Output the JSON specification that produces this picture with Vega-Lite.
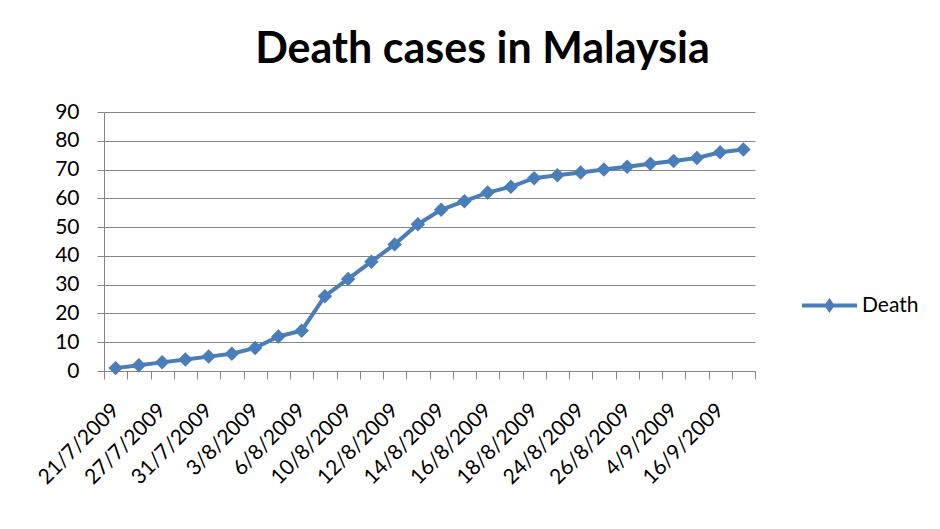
{
  "$schema": "https://vega.github.io/schema/vega-lite/v6.json",
  "autosize": "none",
  "width": 651,
  "height": 259,
  "padding": {"left": 104, "top": 112, "right": 185, "bottom": 158},
  "background": "white",
  "title": {
    "text": "Death cases in Malaysia",
    "font": "Lato",
    "fontSize": 43,
    "fontWeight": "bold",
    "color": "#000000",
    "anchor": "middle",
    "frame": "group",
    "baseline": "alphabetic",
    "dx": 53,
    "offset": -5
  },
  "data": {
    "values": [
      {"date": "21/7/2009", "series": "Death", "deaths": 1},
      {"date": "25/7/2009", "series": "Death", "deaths": 2},
      {"date": "27/7/2009", "series": "Death", "deaths": 3},
      {"date": "29/7/2009", "series": "Death", "deaths": 4},
      {"date": "31/7/2009", "series": "Death", "deaths": 5},
      {"date": "1/8/2009", "series": "Death", "deaths": 6},
      {"date": "3/8/2009", "series": "Death", "deaths": 8},
      {"date": "4/8/2009", "series": "Death", "deaths": 12},
      {"date": "6/8/2009", "series": "Death", "deaths": 14},
      {"date": "8/8/2009", "series": "Death", "deaths": 26},
      {"date": "10/8/2009", "series": "Death", "deaths": 32},
      {"date": "11/8/2009", "series": "Death", "deaths": 38},
      {"date": "12/8/2009", "series": "Death", "deaths": 44},
      {"date": "13/8/2009", "series": "Death", "deaths": 51},
      {"date": "14/8/2009", "series": "Death", "deaths": 56},
      {"date": "15/8/2009", "series": "Death", "deaths": 59},
      {"date": "16/8/2009", "series": "Death", "deaths": 62},
      {"date": "17/8/2009", "series": "Death", "deaths": 64},
      {"date": "18/8/2009", "series": "Death", "deaths": 67},
      {"date": "21/8/2009", "series": "Death", "deaths": 68},
      {"date": "24/8/2009", "series": "Death", "deaths": 69},
      {"date": "25/8/2009", "series": "Death", "deaths": 70},
      {"date": "26/8/2009", "series": "Death", "deaths": 71},
      {"date": "30/8/2009", "series": "Death", "deaths": 72},
      {"date": "4/9/2009", "series": "Death", "deaths": 73},
      {"date": "10/9/2009", "series": "Death", "deaths": 74},
      {"date": "16/9/2009", "series": "Death", "deaths": 76},
      {"date": "20/9/2009", "series": "Death", "deaths": 77}
    ]
  },
  "encoding": {
    "x": {
      "field": "date",
      "type": "ordinal",
      "sort": null,
      "scale": {"type": "band", "paddingInner": 0, "paddingOuter": 0},
      "axis": {
        "title": null,
        "labelAngle": -45,
        "labelAlign": "right",
        "labelBaseline": "middle",
        "labelFont": "Lato",
        "labelFontSize": 21,
        "labelColor": "#000000",
        "labelPadding": 28,
        "labelOverlap": false,
        "labelExpr": "indexof(['21/7/2009','27/7/2009','31/7/2009','3/8/2009','6/8/2009','10/8/2009','12/8/2009','14/8/2009','16/8/2009','18/8/2009','24/8/2009','26/8/2009','4/9/2009','16/9/2009'], datum.label) >= 0 ? datum.label : ''",
        "tickBand": "extent",
        "tickSize": 8,
        "tickColor": "#868686",
        "domainColor": "#868686",
        "grid": false
      }
    },
    "y": {
      "field": "deaths",
      "type": "quantitative",
      "scale": {"domain": [0, 90], "nice": false},
      "axis": {
        "title": null,
        "values": [0, 10, 20, 30, 40, 50, 60, 70, 80, 90],
        "labelFont": "Lato",
        "labelFontSize": 21,
        "labelColor": "#000000",
        "labelPadding": 18,
        "tickSize": 7,
        "tickColor": "#868686",
        "domainColor": "#868686",
        "gridColor": "#868686",
        "gridWidth": 1,
        "gridOpacity": 1
      }
    },
    "color": {
      "field": "series",
      "type": "nominal",
      "scale": {"range": ["#4A7EBB"]},
      "legend": {
        "title": null,
        "orient": "none",
        "legendX": 698,
        "legendY": 166,
        "symbolType": "M-1,-0.07L1,-0.07L1,0.07L-1,0.07Z M0,-0.27L0.19,0L0,0.27L-0.19,0Z",
        "symbolSize": 3025,
        "symbolStrokeWidth": 0,
        "symbolOpacity": 1,
        "labelFont": "Lato",
        "labelFontSize": 21,
        "labelColor": "#000000",
        "labelOffset": 5
      }
    }
  },
  "layer": [
    {"mark": {"type": "line", "strokeWidth": 4}},
    {"mark": {"type": "point", "shape": "diamond", "filled": true, "size": 210, "opacity": 1}}
  ],
  "config": {
    "view": {"stroke": null},
    "axis": {"domainWidth": 1, "tickWidth": 1}
  }
}
